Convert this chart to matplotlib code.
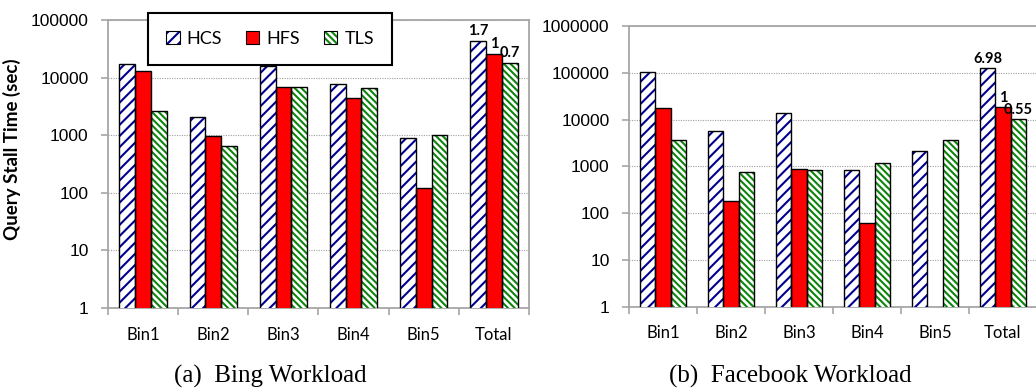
import numpy as np
import matplotlib
matplotlib.use("Agg")
import matplotlib.pyplot as plt
from matplotlib.patches import Patch

categories = ["Bin1", "Bin2", "Bin3", "Bin4", "Bin5", "Total"]
series = ["HCS", "HFS", "TLS"]

bing_hcs = [17000, 2040, 15900, 7600, 910, 43180]
bing_hfs = [13200, 960, 6800, 4370, 120, 25400]
bing_tls = [2630, 660, 6800, 6600, 1000, 17780]
bing_ratio = ["1.7", "1", "0.7"]

fb_hcs = [105000, 5800, 13600, 830, 2150, 127700]
fb_hfs = [17400, 178, 890, 61, np.nan, 18300]
fb_tls = [3600, 770, 830, 1200, 3600, 10065]
fb_ratio = ["6.98", "1", "0.55"]

plt.rcParams["hatch.linewidth"] = 1.5

SANS = ["Lato", "DejaVu Sans"]
NUM = ["Liberation Sans", "DejaVu Sans"]
SERIF = ["Liberation Serif", "DejaVu Serif"]
GRAY = "#A6A6A6"

styles = {
    "HCS": dict(face="white", hatch="///", hcolor="#000090"),
    "HFS": dict(face="#FF0000", hatch=None, hcolor="#FF0000"),
    "TLS": dict(face="white", hatch="\\\\\\\\\\", hcolor="#0E840E"),
}

fig = plt.figure(figsize=(10.36, 3.88), dpi=100)


def draw_panel(ax, data, ratios, ymax, yticks):
    x = np.arange(len(categories))
    w = 0.225
    for k, (name, vals) in enumerate(zip(series, data)):
        vals = np.asarray(vals, dtype=float)
        st = styles[name]
        mask = ~np.isnan(vals)
        pos = x[mask] + (k - 1) * w
        ax.bar(pos, vals[mask], w, color=st["face"], edgecolor=st["hcolor"],
               hatch=st["hatch"], linewidth=0, zorder=3)
        ax.bar(pos, vals[mask], w, fill=False, edgecolor="black",
               linewidth=1.0, zorder=4)
        ax.text(x[-1] + (k - 1) * w, vals[-1] * 1.12, ratios[k],
                ha="center", va="bottom", fontsize=10.5, fontweight="bold",
                family=SANS, zorder=5, clip_on=False)
    ax.set_yscale("log")
    ax.set_ylim(1, ymax)
    ax.set_xlim(-0.5, len(categories) - 0.5)
    ax.set_yticks(yticks)
    ax.set_yticklabels([str(t) for t in yticks], family=NUM, fontsize=12.5)
    ax.yaxis.set_minor_locator(matplotlib.ticker.NullLocator())
    ax.set_xticks(x)
    ax.set_xticklabels(categories, family=SANS, fontsize=12)
    ax.set_xticks(np.arange(-0.5, len(categories)), minor=True)
    ax.tick_params(axis="x", which="major", length=0, pad=13.5)
    ax.tick_params(axis="x", which="minor", length=5, color=GRAY, width=1.2)
    ax.tick_params(axis="y", which="major", length=5, color=GRAY, width=1.2,
                   pad=9)
    ax.grid(axis="y", which="major", color="#A0A0A0", linestyle=(0, (1, 1.2)),
            linewidth=0.8, zorder=0)
    for s in ax.spines.values():
        s.set_color(GRAY)
        s.set_linewidth(1.3)


ax1 = fig.add_axes([108 / 1036, 1 - 308 / 388, (529 - 108) / 1036, (308 - 20) / 388])
draw_panel(ax1, [bing_hcs, bing_hfs, bing_tls], bing_ratio, 1e5,
           [1, 10, 100, 1000, 10000, 100000])
ax1.set_ylabel("Query Stall Time (sec)", family=SANS, fontsize=13.5,
               fontweight="bold")
ax1.yaxis.set_label_coords(-0.207, 0.55)

handles = []
for n in series:
    st = styles[n]
    fill = Patch(facecolor=st["face"], edgecolor=st["hcolor"],
                 hatch=st["hatch"], linewidth=0)
    outline = Patch(fill=False, edgecolor="black", linewidth=0.8)
    handles.append((fill, outline))

leg = ax1.legend(handles, series, loc="upper left", ncol=3,
                 bbox_to_anchor=((148 - 108) / 421, (308 - 12.7) / 288),
                 frameon=True, fancybox=False, edgecolor="black",
                 prop={"family": SANS, "size": 13}, handlelength=0.75,
                 handleheight=0.75, handletextpad=0.4, columnspacing=1.3,
                 borderpad=1.0, borderaxespad=0)
leg.get_frame().set_linewidth(1.5)
leg.get_frame().set_alpha(1)
leg.set_zorder(10)

ax2 = fig.add_axes([629 / 1036, 1 - 306.7 / 388, (1037 - 629) / 1036, (306.7 - 26) / 388])
draw_panel(ax2, [fb_hcs, fb_hfs, fb_tls], fb_ratio, 1e6,
           [1, 10, 100, 1000, 10000, 100000, 1000000])
ax2.spines["right"].set_visible(False)

fig.text(270 / 1036, 1 - 376 / 388, "(a)  Bing Workload", ha="center",
         va="center", family=SERIF, fontsize=18)
fig.text(790 / 1036, 1 - 376 / 388, "(b)  Facebook Workload", ha="center",
         va="center", family=SERIF, fontsize=18)

fig.savefig("out.png", dpi=100)
